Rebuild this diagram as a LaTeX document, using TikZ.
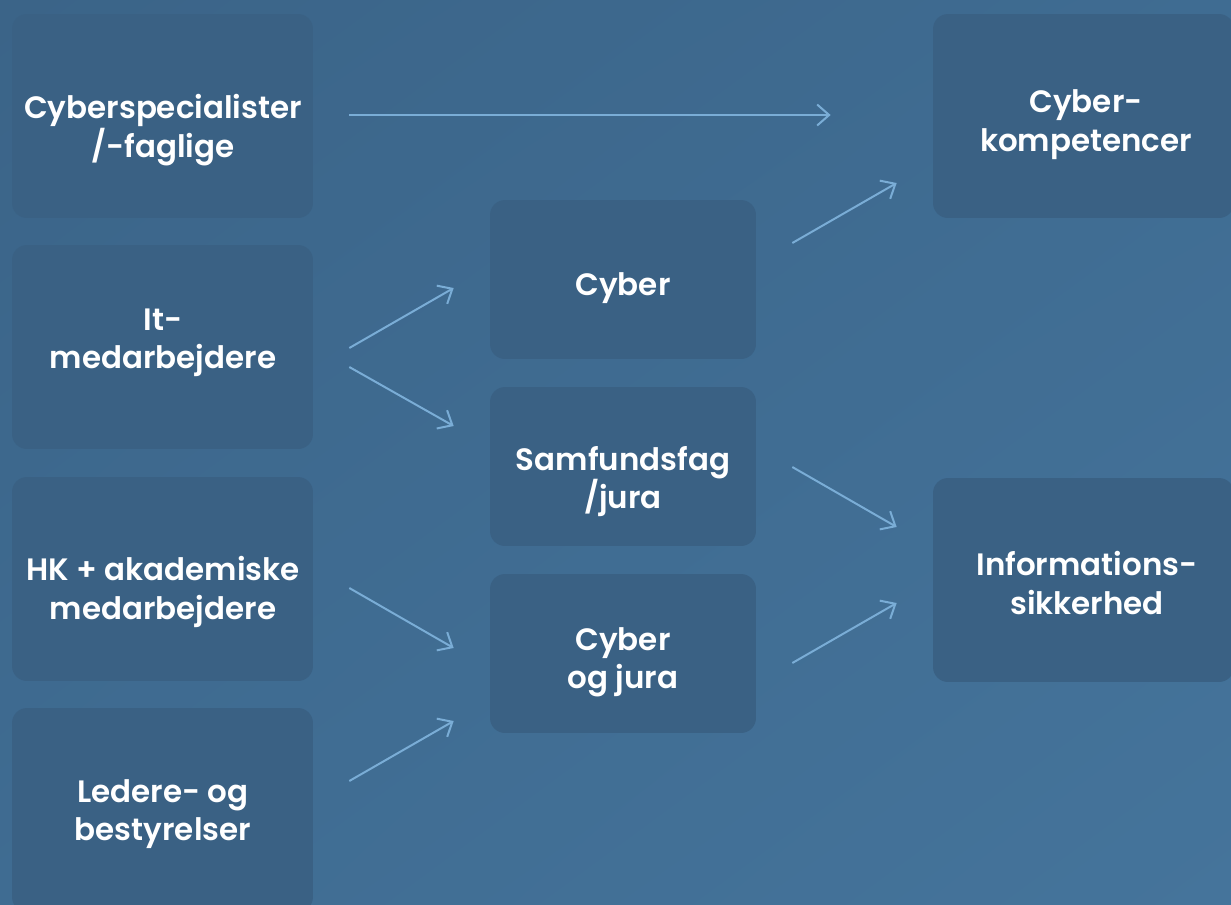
\documentclass[tikz,border=0pt]{standalone}
\usepackage{fontspec}
\newfontfamily\boxfont{Poppins SemiBold}
\usetikzlibrary{arrows.meta,shadings}

\definecolor{bgA}{HTML}{3B6488}
\definecolor{bgM}{HTML}{3F6C92}
\definecolor{bgB}{HTML}{45749B}
\definecolor{boxblue}{HTML}{3A6184}
\definecolor{arrowblue}{HTML}{7AADD6}

\tikzset{
  box/.style={fill=boxblue, rounded corners=0.3cm, inner sep=0pt},
  sidebox/.style={box, minimum width=6.02cm, minimum height=4.08cm},
  midbox/.style={box, minimum width=5.32cm, minimum height=3.18cm},
  txt/.style={text=white, align=center, inner sep=0pt,
    font=\boxfont\fontsize{17.6}{21.8}\selectfont},
  arr/.style={draw=arrowblue, line width=0.04cm,
    -{Straight Barb[length=0.24cm, width=0.42cm]}}
}

\begin{document}
\begin{tikzpicture}[x=0.02cm, y=-0.02cm]
  % background
  \useasboundingbox (0,0) rectangle (1231,904);
  \clip (0,0) rectangle (1231,904);
  \shade[upper left=bgA, upper right=bgM, lower left=bgM, lower right=bgB]
    (0,0) rectangle (1231,904);

  % left column
  \node[sidebox] (spec)  at (162.5,116) {};
  \node[sidebox] (it)    at (162.5,347) {};
  \node[sidebox] (hk)    at (162.5,579) {};
  \node[sidebox] (leder) at (162.5,810) {};
  \node[txt] (spec-t)  at (163,130) {Cyberspecialister\\/-faglige};
  \node[txt] (it-t)    at (163,343) {It-\\medarbejdere};
  \node[txt] (hk-t)    at (163,592) {HK + akademiske\\medarbejdere};
  \node[txt] (leder-t) at (163,814) {Ledere- og\\bestyrelser};

  % middle column
  \node[midbox] (cyber) at (623,279.5) {};
  \node[midbox] (samf)  at (623,466.5) {};
  \node[midbox] (cjura) at (623,653.5) {};
  \node[txt] (cyber-t) at (623,288)   {Cyber};
  \node[txt] (samf-t)  at (623,481.5) {Samfundsfag\\/jura};
  \node[txt] (cjura-t) at (623,662)   {Cyber\\og jura};

  % right column
  \node[sidebox] (komp) at (1083.5,116) {};
  \node[sidebox] (info) at (1083.5,580) {};
  \node[txt] (komp-t) at (1086,124.5) {Cyber-\\kompetencer};
  \node[txt] (info-t) at (1087,583)   {Informations-\\sikkerhed};

  % arrows
  \draw[arr] ([shift={(36,-1)}]spec.east) -- ([shift={(-102,-1)}]komp.west);
  \draw[arr] ([shift={(36,1)}]it.east)    -- ([shift={(-36,8.5)}]cyber.west);
  \draw[arr] ([shift={(36,20)}]it.east)   -- ([shift={(-36,-40.5)}]samf.west);
  \draw[arr] ([shift={(36,9)}]hk.east)    -- ([shift={(-36,-5.5)}]cjura.west);
  \draw[arr] ([shift={(36,-29)}]leder.east) -- ([shift={(-36,67.5)}]cjura.west);
  \draw[arr] ([shift={(36,-36.5)}]cyber.east) -- ([shift={(-36,67)}]komp.west);
  \draw[arr] ([shift={(36,0.5)}]samf.east)  -- ([shift={(-36,-53)}]info.west);
  \draw[arr] ([shift={(36,9.5)}]cjura.east) -- ([shift={(-36,23)}]info.west);
\end{tikzpicture}
\end{document}
